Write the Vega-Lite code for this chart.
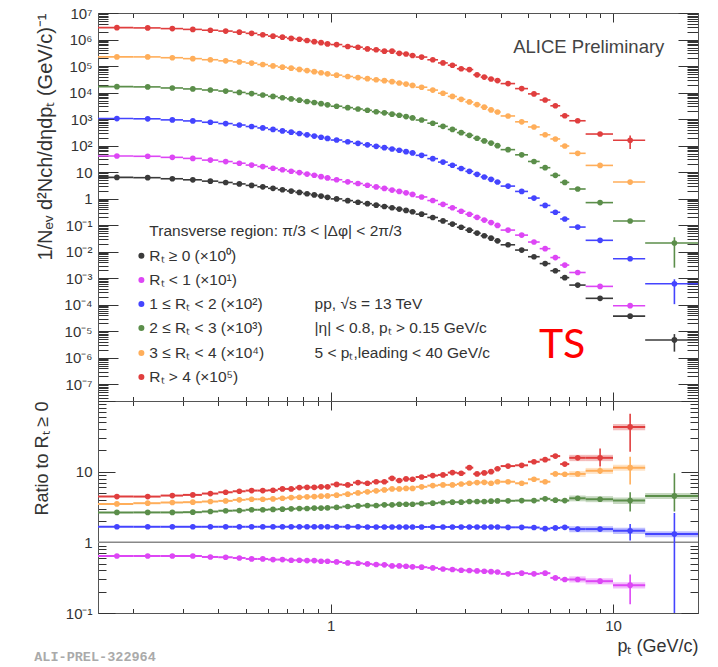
{
  "$schema": "https://vega.github.io/schema/vega-lite/v6.json",
  "padding": {"left": 32, "top": 5, "right": 5, "bottom": 5},
  "bounds": "flush",
  "spacing": 0,
  "config": {
    "font": "Liberation Sans",
    "view": {"stroke": "#555", "strokeWidth": 1},
    "axis": {
      "grid": false, "domainColor": "#555", "tickColor": "#333", "tickWidth": 1,
      "labelColor": "#333", "titleColor": "#333", "labelFontSize": 15,
      "titleFontWeight": "normal", "labelOverlap": false, "labelBound": false, "labelFlush": false
    }
  },
  "datasets": {
    "bins": [
      {"pt": 0.175, "ptlo": 0.15, "pthi": 0.2}, {"pt": 0.225, "ptlo": 0.2, "pthi": 0.25},
      {"pt": 0.275, "ptlo": 0.25, "pthi": 0.3}, {"pt": 0.325, "ptlo": 0.3, "pthi": 0.35},
      {"pt": 0.375, "ptlo": 0.35, "pthi": 0.4}, {"pt": 0.425, "ptlo": 0.4, "pthi": 0.45},
      {"pt": 0.475, "ptlo": 0.45, "pthi": 0.5}, {"pt": 0.525, "ptlo": 0.5, "pthi": 0.55},
      {"pt": 0.575, "ptlo": 0.55, "pthi": 0.6}, {"pt": 0.625, "ptlo": 0.6, "pthi": 0.65},
      {"pt": 0.675, "ptlo": 0.65, "pthi": 0.7}, {"pt": 0.725, "ptlo": 0.7, "pthi": 0.75},
      {"pt": 0.775, "ptlo": 0.75, "pthi": 0.8}, {"pt": 0.825, "ptlo": 0.8, "pthi": 0.85},
      {"pt": 0.875, "ptlo": 0.85, "pthi": 0.9}, {"pt": 0.925, "ptlo": 0.9, "pthi": 0.95},
      {"pt": 0.975, "ptlo": 0.95, "pthi": 1.0}, {"pt": 1.05, "ptlo": 1.0, "pthi": 1.1},
      {"pt": 1.15, "ptlo": 1.1, "pthi": 1.2}, {"pt": 1.25, "ptlo": 1.2, "pthi": 1.3},
      {"pt": 1.35, "ptlo": 1.3, "pthi": 1.4}, {"pt": 1.45, "ptlo": 1.4, "pthi": 1.5},
      {"pt": 1.55, "ptlo": 1.5, "pthi": 1.6}, {"pt": 1.65, "ptlo": 1.6, "pthi": 1.7},
      {"pt": 1.75, "ptlo": 1.7, "pthi": 1.8}, {"pt": 1.85, "ptlo": 1.8, "pthi": 1.9},
      {"pt": 1.95, "ptlo": 1.9, "pthi": 2.0}, {"pt": 2.1, "ptlo": 2.0, "pthi": 2.2},
      {"pt": 2.3, "ptlo": 2.2, "pthi": 2.4}, {"pt": 2.5, "ptlo": 2.4, "pthi": 2.6},
      {"pt": 2.7, "ptlo": 2.6, "pthi": 2.8}, {"pt": 2.9, "ptlo": 2.8, "pthi": 3.0},
      {"pt": 3.1, "ptlo": 3.0, "pthi": 3.2}, {"pt": 3.3, "ptlo": 3.2, "pthi": 3.4},
      {"pt": 3.5, "ptlo": 3.4, "pthi": 3.6}, {"pt": 3.7, "ptlo": 3.6, "pthi": 3.8},
      {"pt": 3.9, "ptlo": 3.8, "pthi": 4.0}, {"pt": 4.25, "ptlo": 4.0, "pthi": 4.5},
      {"pt": 4.75, "ptlo": 4.5, "pthi": 5.0}, {"pt": 5.25, "ptlo": 5.0, "pthi": 5.5},
      {"pt": 5.75, "ptlo": 5.5, "pthi": 6.0}, {"pt": 6.25, "ptlo": 6.0, "pthi": 6.5},
      {"pt": 6.75, "ptlo": 6.5, "pthi": 7.0}, {"pt": 7.5, "ptlo": 7.0, "pthi": 8.0},
      {"pt": 9, "ptlo": 8.0, "pthi": 10.0}, {"pt": 11.5, "ptlo": 10.0, "pthi": 13.0},
      {"pt": 16.5, "ptlo": 13.0, "pthi": 20.0}
    ],
    "spectra": [
      {"series": "all", "pt": 0.175, "y": 6.31}, {"series": "all", "pt": 0.225, "y": 6.17},
      {"series": "all", "pt": 0.275, "y": 5.62}, {"series": "all", "pt": 0.325, "y": 5.13},
      {"series": "all", "pt": 0.375, "y": 4.57}, {"series": "all", "pt": 0.425, "y": 4.07},
      {"series": "all", "pt": 0.475, "y": 3.59}, {"series": "all", "pt": 0.525, "y": 3.16},
      {"series": "all", "pt": 0.575, "y": 2.79}, {"series": "all", "pt": 0.625, "y": 2.45},
      {"series": "all", "pt": 0.675, "y": 2.16}, {"series": "all", "pt": 0.725, "y": 1.93},
      {"series": "all", "pt": 0.775, "y": 1.72}, {"series": "all", "pt": 0.825, "y": 1.53},
      {"series": "all", "pt": 0.875, "y": 1.38}, {"series": "all", "pt": 0.925, "y": 1.245},
      {"series": "all", "pt": 0.975, "y": 1.12}, {"series": "all", "pt": 1.05, "y": 0.977},
      {"series": "all", "pt": 1.15, "y": 0.841}, {"series": "all", "pt": 1.25, "y": 0.733},
      {"series": "all", "pt": 1.35, "y": 0.646}, {"series": "all", "pt": 1.45, "y": 0.569},
      {"series": "all", "pt": 1.55, "y": 0.507}, {"series": "all", "pt": 1.65, "y": 0.452},
      {"series": "all", "pt": 1.75, "y": 0.403}, {"series": "all", "pt": 1.85, "y": 0.359},
      {"series": "all", "pt": 1.95, "y": 0.32}, {"series": "all", "pt": 2.1, "y": 0.26},
      {"series": "all", "pt": 2.3, "y": 0.195}, {"series": "all", "pt": 2.5, "y": 0.145},
      {"series": "all", "pt": 2.7, "y": 0.11}, {"series": "all", "pt": 2.9, "y": 0.0832},
      {"series": "all", "pt": 3.1, "y": 0.0646}, {"series": "all", "pt": 3.3, "y": 0.0501},
      {"series": "all", "pt": 3.5, "y": 0.0398}, {"series": "all", "pt": 3.7, "y": 0.0324},
      {"series": "all", "pt": 3.9, "y": 0.0257}, {"series": "all", "pt": 4.25, "y": 0.0182},
      {"series": "all", "pt": 4.75, "y": 0.0115}, {"series": "all", "pt": 5.25, "y": 0.00646},
      {"series": "all", "pt": 5.75, "y": 0.00355}, {"series": "all", "pt": 6.25, "y": 0.00191},
      {"series": "all", "pt": 6.75, "y": 0.00105}, {"series": "all", "pt": 7.5, "y": 0.00055},
      {"series": "all", "pt": 9, "y": 0.000174},
      {"series": "all", "pt": 11.5, "y": 0.000037, "ylo": 0.000033, "yhi": 0.000041},
      {"series": "all", "pt": 16.5, "y": 0.0000047, "ylo": 0.0000017, "yhi": 0.0000078},

      {"series": "lt1", "pt": 0.175, "y": 40.4, "ratio": 0.641}, {"series": "lt1", "pt": 0.225, "y": 39.5, "ratio": 0.641},
      {"series": "lt1", "pt": 0.275, "y": 36.0, "ratio": 0.641}, {"series": "lt1", "pt": 0.325, "y": 32.9, "ratio": 0.641},
      {"series": "lt1", "pt": 0.375, "y": 28.4, "ratio": 0.621}, {"series": "lt1", "pt": 0.425, "y": 25.0, "ratio": 0.615},
      {"series": "lt1", "pt": 0.475, "y": 21.6, "ratio": 0.601}, {"series": "lt1", "pt": 0.525, "y": 18.4, "ratio": 0.582},
      {"series": "lt1", "pt": 0.575, "y": 16.2, "ratio": 0.582}, {"series": "lt1", "pt": 0.625, "y": 14.0, "ratio": 0.57},
      {"series": "lt1", "pt": 0.675, "y": 12.3, "ratio": 0.57}, {"series": "lt1", "pt": 0.725, "y": 10.8, "ratio": 0.558},
      {"series": "lt1", "pt": 0.775, "y": 9.6, "ratio": 0.558}, {"series": "lt1", "pt": 0.825, "y": 8.45, "ratio": 0.552},
      {"series": "lt1", "pt": 0.875, "y": 7.62, "ratio": 0.552}, {"series": "lt1", "pt": 0.925, "y": 6.72, "ratio": 0.54},
      {"series": "lt1", "pt": 0.975, "y": 6.05, "ratio": 0.54}, {"series": "lt1", "pt": 1.05, "y": 5.16, "ratio": 0.528},
      {"series": "lt1", "pt": 1.15, "y": 4.30, "ratio": 0.511}, {"series": "lt1", "pt": 1.25, "y": 3.71, "ratio": 0.506},
      {"series": "lt1", "pt": 1.35, "y": 3.20, "ratio": 0.495}, {"series": "lt1", "pt": 1.45, "y": 2.76, "ratio": 0.485},
      {"series": "lt1", "pt": 1.55, "y": 2.43, "ratio": 0.48}, {"series": "lt1", "pt": 1.65, "y": 2.10, "ratio": 0.464},
      {"series": "lt1", "pt": 1.75, "y": 1.87, "ratio": 0.464}, {"series": "lt1", "pt": 1.85, "y": 1.65, "ratio": 0.459},
      {"series": "lt1", "pt": 1.95, "y": 1.44, "ratio": 0.45}, {"series": "lt1", "pt": 2.1, "y": 1.157, "ratio": 0.445},
      {"series": "lt1", "pt": 2.3, "y": 0.848, "ratio": 0.435}, {"series": "lt1", "pt": 2.5, "y": 0.609, "ratio": 0.42},
      {"series": "lt1", "pt": 2.7, "y": 0.454, "ratio": 0.413}, {"series": "lt1", "pt": 2.9, "y": 0.335, "ratio": 0.403},
      {"series": "lt1", "pt": 3.1, "y": 0.258, "ratio": 0.399}, {"series": "lt1", "pt": 3.3, "y": 0.197, "ratio": 0.394},
      {"series": "lt1", "pt": 3.5, "y": 0.155, "ratio": 0.39}, {"series": "lt1", "pt": 3.7, "y": 0.125, "ratio": 0.385},
      {"series": "lt1", "pt": 3.9, "y": 0.0977, "ratio": 0.38}, {"series": "lt1", "pt": 4.25, "y": 0.0652, "ratio": 0.358},
      {"series": "lt1", "pt": 4.75, "y": 0.0421, "ratio": 0.366}, {"series": "lt1", "pt": 5.25, "y": 0.0231, "ratio": 0.358},
      {"series": "lt1", "pt": 5.75, "y": 0.013, "ratio": 0.366}, {"series": "lt1", "pt": 6.25, "y": 0.006, "ratio": 0.314},
      {"series": "lt1", "pt": 6.75, "y": 0.00313, "ratio": 0.298},
      {"series": "lt1", "pt": 7.5, "y": 0.00164, "ratio": 0.298, "slo": 0.27, "shi": 0.33},
      {"series": "lt1", "pt": 9, "y": 0.000491, "ratio": 0.282, "rlo": 0.26, "rhi": 0.305, "slo": 0.254, "shi": 0.31},
      {"series": "lt1", "pt": 11.5, "y": 0.0000918, "ylo": 0.000082, "yhi": 0.000102, "ratio": 0.248, "rlo": 0.133, "rhi": 0.35, "slo": 0.223, "shi": 0.273},

      {"series": "1to2", "pt": 0.175, "y": 1047, "ratio": 1.66}, {"series": "1to2", "pt": 0.225, "y": 1024, "ratio": 1.66},
      {"series": "1to2", "pt": 0.275, "y": 933, "ratio": 1.66}, {"series": "1to2", "pt": 0.325, "y": 852, "ratio": 1.66},
      {"series": "1to2", "pt": 0.375, "y": 759, "ratio": 1.66}, {"series": "1to2", "pt": 0.425, "y": 676, "ratio": 1.66},
      {"series": "1to2", "pt": 0.475, "y": 596, "ratio": 1.66}, {"series": "1to2", "pt": 0.525, "y": 525, "ratio": 1.66},
      {"series": "1to2", "pt": 0.575, "y": 463, "ratio": 1.66}, {"series": "1to2", "pt": 0.625, "y": 407, "ratio": 1.66},
      {"series": "1to2", "pt": 0.675, "y": 359, "ratio": 1.66}, {"series": "1to2", "pt": 0.725, "y": 320, "ratio": 1.66},
      {"series": "1to2", "pt": 0.775, "y": 286, "ratio": 1.66}, {"series": "1to2", "pt": 0.825, "y": 254, "ratio": 1.66},
      {"series": "1to2", "pt": 0.875, "y": 229, "ratio": 1.66}, {"series": "1to2", "pt": 0.925, "y": 207, "ratio": 1.66},
      {"series": "1to2", "pt": 0.975, "y": 186, "ratio": 1.66}, {"series": "1to2", "pt": 1.05, "y": 162, "ratio": 1.66},
      {"series": "1to2", "pt": 1.15, "y": 140, "ratio": 1.66}, {"series": "1to2", "pt": 1.25, "y": 122, "ratio": 1.66},
      {"series": "1to2", "pt": 1.35, "y": 107, "ratio": 1.65}, {"series": "1to2", "pt": 1.45, "y": 93.9, "ratio": 1.65},
      {"series": "1to2", "pt": 1.55, "y": 83.7, "ratio": 1.65}, {"series": "1to2", "pt": 1.65, "y": 74.6, "ratio": 1.65},
      {"series": "1to2", "pt": 1.75, "y": 66.5, "ratio": 1.65}, {"series": "1to2", "pt": 1.85, "y": 59.2, "ratio": 1.65},
      {"series": "1to2", "pt": 1.95, "y": 52.8, "ratio": 1.65}, {"series": "1to2", "pt": 2.1, "y": 42.9, "ratio": 1.65},
      {"series": "1to2", "pt": 2.3, "y": 32.2, "ratio": 1.65}, {"series": "1to2", "pt": 2.5, "y": 23.9, "ratio": 1.65},
      {"series": "1to2", "pt": 2.7, "y": 18.2, "ratio": 1.65}, {"series": "1to2", "pt": 2.9, "y": 13.7, "ratio": 1.65},
      {"series": "1to2", "pt": 3.1, "y": 10.7, "ratio": 1.65}, {"series": "1to2", "pt": 3.3, "y": 8.27, "ratio": 1.65},
      {"series": "1to2", "pt": 3.5, "y": 6.57, "ratio": 1.65}, {"series": "1to2", "pt": 3.7, "y": 5.35, "ratio": 1.65},
      {"series": "1to2", "pt": 3.9, "y": 4.24, "ratio": 1.65}, {"series": "1to2", "pt": 4.25, "y": 2.97, "ratio": 1.63},
      {"series": "1to2", "pt": 4.75, "y": 1.87, "ratio": 1.63}, {"series": "1to2", "pt": 5.25, "y": 1.05, "ratio": 1.62},
      {"series": "1to2", "pt": 5.75, "y": 0.554, "ratio": 1.56}, {"series": "1to2", "pt": 6.25, "y": 0.306, "ratio": 1.6},
      {"series": "1to2", "pt": 6.75, "y": 0.171, "ratio": 1.63},
      {"series": "1to2", "pt": 7.5, "y": 0.0847, "ratio": 1.54, "slo": 1.39, "shi": 1.69},
      {"series": "1to2", "pt": 9, "y": 0.0268, "ratio": 1.54, "slo": 1.39, "shi": 1.69},
      {"series": "1to2", "pt": 11.5, "y": 0.0054, "ylo": 0.0048, "yhi": 0.006, "ratio": 1.46, "rlo": 1.06, "rhi": 1.81, "slo": 1.31, "shi": 1.61},
      {"series": "1to2", "pt": 16.5, "y": 0.000616, "ylo": 0.000105, "yhi": 0.00091, "ratio": 1.31, "rlo": 0.1, "rhi": 2.6, "slo": 1.18, "shi": 1.44},

      {"series": "2to3", "pt": 0.175, "y": 16700, "ratio": 2.65}, {"series": "2to3", "pt": 0.225, "y": 16350, "ratio": 2.65},
      {"series": "2to3", "pt": 0.275, "y": 14900, "ratio": 2.65}, {"series": "2to3", "pt": 0.325, "y": 13700, "ratio": 2.67},
      {"series": "2to3", "pt": 0.375, "y": 12480, "ratio": 2.73}, {"series": "2to3", "pt": 0.425, "y": 11400, "ratio": 2.8},
      {"series": "2to3", "pt": 0.475, "y": 10120, "ratio": 2.82}, {"series": "2to3", "pt": 0.525, "y": 9130, "ratio": 2.89},
      {"series": "2to3", "pt": 0.575, "y": 8060, "ratio": 2.89}, {"series": "2to3", "pt": 0.625, "y": 7150, "ratio": 2.92},
      {"series": "2to3", "pt": 0.675, "y": 6370, "ratio": 2.95}, {"series": "2to3", "pt": 0.725, "y": 5750, "ratio": 2.98},
      {"series": "2to3", "pt": 0.775, "y": 5180, "ratio": 3.01}, {"series": "2to3", "pt": 0.825, "y": 4600, "ratio": 3.01},
      {"series": "2to3", "pt": 0.875, "y": 4210, "ratio": 3.05}, {"series": "2to3", "pt": 0.925, "y": 3800, "ratio": 3.05},
      {"series": "2to3", "pt": 0.975, "y": 3450, "ratio": 3.08}, {"series": "2to3", "pt": 1.05, "y": 3050, "ratio": 3.12},
      {"series": "2to3", "pt": 1.15, "y": 2700, "ratio": 3.21}, {"series": "2to3", "pt": 1.25, "y": 2400, "ratio": 3.28},
      {"series": "2to3", "pt": 1.35, "y": 2145, "ratio": 3.32}, {"series": "2to3", "pt": 1.45, "y": 1890, "ratio": 3.32},
      {"series": "2to3", "pt": 1.55, "y": 1720, "ratio": 3.39}, {"series": "2to3", "pt": 1.65, "y": 1530, "ratio": 3.39},
      {"series": "2to3", "pt": 1.75, "y": 1394, "ratio": 3.46}, {"series": "2to3", "pt": 1.85, "y": 1242, "ratio": 3.46},
      {"series": "2to3", "pt": 1.95, "y": 1107, "ratio": 3.46}, {"series": "2to3", "pt": 2.1, "y": 920, "ratio": 3.54},
      {"series": "2to3", "pt": 2.3, "y": 698, "ratio": 3.58}, {"series": "2to3", "pt": 2.5, "y": 531, "ratio": 3.66},
      {"series": "2to3", "pt": 2.7, "y": 407, "ratio": 3.7}, {"series": "2to3", "pt": 2.9, "y": 308, "ratio": 3.7},
      {"series": "2to3", "pt": 3.1, "y": 244, "ratio": 3.78}, {"series": "2to3", "pt": 3.3, "y": 189, "ratio": 3.78},
      {"series": "2to3", "pt": 3.5, "y": 150, "ratio": 3.78}, {"series": "2to3", "pt": 3.7, "y": 124, "ratio": 3.82},
      {"series": "2to3", "pt": 3.9, "y": 99.2, "ratio": 3.86}, {"series": "2to3", "pt": 4.25, "y": 70.4, "ratio": 3.87},
      {"series": "2to3", "pt": 4.75, "y": 44.9, "ratio": 3.9}, {"series": "2to3", "pt": 5.25, "y": 25.2, "ratio": 3.9},
      {"series": "2to3", "pt": 5.75, "y": 14.7, "ratio": 4.13}, {"series": "2to3", "pt": 6.25, "y": 7.54, "ratio": 3.95},
      {"series": "2to3", "pt": 6.75, "y": 4.1, "ratio": 3.9},
      {"series": "2to3", "pt": 7.5, "y": 2.31, "ratio": 4.2, "slo": 3.8, "shi": 4.6},
      {"series": "2to3", "pt": 9, "y": 0.708, "ratio": 4.07, "slo": 3.7, "shi": 4.5},
      {"series": "2to3", "pt": 11.5, "y": 0.144, "ylo": 0.13, "yhi": 0.16, "ratio": 3.9, "rlo": 2.73, "rhi": 5.1, "slo": 3.5, "shi": 4.3},
      {"series": "2to3", "pt": 16.5, "y": 0.0213, "ylo": 0.0025, "yhi": 0.035, "ratio": 4.54, "rlo": 2.73, "rhi": 9.5, "slo": 4.1, "shi": 5.0},

      {"series": "3to4", "pt": 0.175, "y": 221000, "ratio": 3.5}, {"series": "3to4", "pt": 0.225, "y": 221000, "ratio": 3.58},
      {"series": "3to4", "pt": 0.275, "y": 206000, "ratio": 3.66}, {"series": "3to4", "pt": 0.325, "y": 190000, "ratio": 3.7},
      {"series": "3to4", "pt": 0.375, "y": 173000, "ratio": 3.78}, {"series": "3to4", "pt": 0.425, "y": 157000, "ratio": 3.86},
      {"series": "3to4", "pt": 0.475, "y": 143000, "ratio": 3.99}, {"series": "3to4", "pt": 0.525, "y": 129000, "ratio": 4.07},
      {"series": "3to4", "pt": 0.575, "y": 114000, "ratio": 4.07}, {"series": "3to4", "pt": 0.625, "y": 101000, "ratio": 4.12},
      {"series": "3to4", "pt": 0.675, "y": 90700, "ratio": 4.2}, {"series": "3to4", "pt": 0.725, "y": 83000, "ratio": 4.3},
      {"series": "3to4", "pt": 0.775, "y": 74800, "ratio": 4.35}, {"series": "3to4", "pt": 0.825, "y": 67300, "ratio": 4.4},
      {"series": "3to4", "pt": 0.875, "y": 61300, "ratio": 4.44}, {"series": "3to4", "pt": 0.925, "y": 56000, "ratio": 4.5},
      {"series": "3to4", "pt": 0.975, "y": 50800, "ratio": 4.54}, {"series": "3to4", "pt": 1.05, "y": 45400, "ratio": 4.65},
      {"series": "3to4", "pt": 1.15, "y": 40400, "ratio": 4.8}, {"series": "3to4", "pt": 1.25, "y": 36700, "ratio": 5.0},
      {"series": "3to4", "pt": 1.35, "y": 33500, "ratio": 5.18}, {"series": "3to4", "pt": 1.45, "y": 30400, "ratio": 5.35},
      {"series": "3to4", "pt": 1.55, "y": 28000, "ratio": 5.52}, {"series": "3to4", "pt": 1.65, "y": 25800, "ratio": 5.7},
      {"series": "3to4", "pt": 1.75, "y": 23000, "ratio": 5.7}, {"series": "3to4", "pt": 1.85, "y": 20800, "ratio": 5.8},
      {"series": "3to4", "pt": 1.95, "y": 18600, "ratio": 5.8}, {"series": "3to4", "pt": 2.1, "y": 15900, "ratio": 6.1},
      {"series": "3to4", "pt": 2.3, "y": 12400, "ratio": 6.35}, {"series": "3to4", "pt": 2.5, "y": 9430, "ratio": 6.5},
      {"series": "3to4", "pt": 2.7, "y": 7150, "ratio": 6.5}, {"series": "3to4", "pt": 2.9, "y": 5570, "ratio": 6.7},
      {"series": "3to4", "pt": 3.1, "y": 4430, "ratio": 6.85}, {"series": "3to4", "pt": 3.3, "y": 3510, "ratio": 7.0},
      {"series": "3to4", "pt": 3.5, "y": 2810, "ratio": 7.06}, {"series": "3to4", "pt": 3.7, "y": 2220, "ratio": 6.85},
      {"series": "3to4", "pt": 3.9, "y": 1850, "ratio": 7.2}, {"series": "3to4", "pt": 4.25, "y": 1310, "ratio": 7.2},
      {"series": "3to4", "pt": 4.75, "y": 788, "ratio": 6.85}, {"series": "3to4", "pt": 5.25, "y": 504, "ratio": 7.8},
      {"series": "3to4", "pt": 5.75, "y": 256, "ratio": 7.2}, {"series": "3to4", "pt": 6.25, "y": 178, "ratio": 9.3},
      {"series": "3to4", "pt": 6.75, "y": 96.6, "ratio": 9.2},
      {"series": "3to4", "pt": 7.5, "y": 51.2, "ratio": 9.3, "slo": 8.4, "shi": 10.2},
      {"series": "3to4", "pt": 9, "y": 17.9, "ratio": 10.3, "rlo": 9.3, "rhi": 11.5, "slo": 9.3, "shi": 11.3},
      {"series": "3to4", "pt": 11.5, "y": 4.22, "ylo": 3.6, "yhi": 4.9, "ratio": 11.4, "rlo": 6.6, "rhi": 16.3, "slo": 10.3, "shi": 12.5},

      {"series": "gt4", "pt": 0.175, "y": 2800000, "ratio": 4.44}, {"series": "gt4", "pt": 0.225, "y": 2740000, "ratio": 4.44},
      {"series": "gt4", "pt": 0.275, "y": 2580000, "ratio": 4.59}, {"series": "gt4", "pt": 0.325, "y": 2410000, "ratio": 4.69},
      {"series": "gt4", "pt": 0.375, "y": 2240000, "ratio": 4.9}, {"series": "gt4", "pt": 0.425, "y": 2080000, "ratio": 5.11},
      {"series": "gt4", "pt": 0.475, "y": 1900000, "ratio": 5.28}, {"series": "gt4", "pt": 0.525, "y": 1710000, "ratio": 5.4},
      {"series": "gt4", "pt": 0.575, "y": 1510000, "ratio": 5.4}, {"series": "gt4", "pt": 0.625, "y": 1340000, "ratio": 5.45},
      {"series": "gt4", "pt": 0.675, "y": 1230000, "ratio": 5.7}, {"series": "gt4", "pt": 0.725, "y": 1100000, "ratio": 5.7},
      {"series": "gt4", "pt": 0.775, "y": 1020000, "ratio": 5.95}, {"series": "gt4", "pt": 0.825, "y": 918000, "ratio": 6.0},
      {"series": "gt4", "pt": 0.875, "y": 828000, "ratio": 6.0}, {"series": "gt4", "pt": 0.925, "y": 759000, "ratio": 6.1},
      {"series": "gt4", "pt": 0.975, "y": 683000, "ratio": 6.1}, {"series": "gt4", "pt": 1.05, "y": 645000, "ratio": 6.6},
      {"series": "gt4", "pt": 1.15, "y": 547000, "ratio": 6.5}, {"series": "gt4", "pt": 1.25, "y": 513000, "ratio": 7.0},
      {"series": "gt4", "pt": 1.35, "y": 443000, "ratio": 6.85}, {"series": "gt4", "pt": 1.45, "y": 410000, "ratio": 7.2},
      {"series": "gt4", "pt": 1.55, "y": 365000, "ratio": 7.2}, {"series": "gt4", "pt": 1.65, "y": 364000, "ratio": 8.05},
      {"series": "gt4", "pt": 1.75, "y": 302000, "ratio": 7.5}, {"series": "gt4", "pt": 1.85, "y": 284000, "ratio": 7.9},
      {"series": "gt4", "pt": 1.95, "y": 250000, "ratio": 7.8}, {"series": "gt4", "pt": 2.1, "y": 218000, "ratio": 8.4},
      {"series": "gt4", "pt": 2.3, "y": 172000, "ratio": 8.8}, {"series": "gt4", "pt": 2.5, "y": 131000, "ratio": 9.0},
      {"series": "gt4", "pt": 2.7, "y": 107000, "ratio": 9.7}, {"series": "gt4", "pt": 2.9, "y": 79000, "ratio": 9.5},
      {"series": "gt4", "pt": 3.1, "y": 73600, "ratio": 11.4}, {"series": "gt4", "pt": 3.3, "y": 46600, "ratio": 9.3},
      {"series": "gt4", "pt": 3.5, "y": 38200, "ratio": 9.6}, {"series": "gt4", "pt": 3.7, "y": 32400, "ratio": 10.0},
      {"series": "gt4", "pt": 3.9, "y": 28300, "ratio": 11.0}, {"series": "gt4", "pt": 4.25, "y": 21800, "ratio": 12.0},
      {"series": "gt4", "pt": 4.75, "y": 14100, "ratio": 12.3}, {"series": "gt4", "pt": 5.25, "y": 8910, "ratio": 13.8},
      {"series": "gt4", "pt": 5.75, "y": 5250, "ratio": 14.8}, {"series": "gt4", "pt": 6.25, "y": 3170, "ratio": 16.6},
      {"series": "gt4", "pt": 6.75, "y": 1340, "ratio": 12.8},
      {"series": "gt4", "pt": 7.5, "y": 864, "ratio": 15.7, "slo": 14.1, "shi": 17.3},
      {"series": "gt4", "pt": 9, "y": 273, "ylo": 245, "yhi": 300, "ratio": 15.7, "rlo": 11.8, "rhi": 21.3, "slo": 14.1, "shi": 17.3},
      {"series": "gt4", "pt": 11.5, "y": 159, "ylo": 75, "yhi": 240, "ratio": 43, "rlo": 19.2, "rhi": 66, "slo": 38.7, "shi": 47.3}
    ],
    "legend": [
      {"series": "all", "x": 0.2137, "y": 0.00695},
      {"series": "lt1", "x": 0.2137, "y": 0.000863},
      {"series": "1to2", "x": 0.2137, "y": 0.000107},
      {"series": "2to3", "x": 0.2137, "y": 0.0000133},
      {"series": "3to4", "x": 0.2137, "y": 0.00000152},
      {"series": "gt4", "x": 0.2137, "y": 0.000000188}
    ],
    "notes": [
      {"x": 0.228, "y": 0.061, "text": "Transverse region: π/3 < |Δφ| < 2π/3"},
      {"x": 0.228, "y": 0.00695, "text": "Rₜ ≥ 0 (×10⁰)"},
      {"x": 0.228, "y": 0.000863, "text": "Rₜ < 1 (×10¹)"},
      {"x": 0.228, "y": 0.000107, "text": "1 ≤ Rₜ < 2 (×10²)"},
      {"x": 0.228, "y": 0.0000133, "text": "2 ≤ Rₜ < 3 (×10³)"},
      {"x": 0.228, "y": 0.00000152, "text": "3 ≤ Rₜ < 4 (×10⁴)"},
      {"x": 0.228, "y": 0.000000188, "text": "Rₜ > 4 (×10⁵)"},
      {"x": 0.877, "y": 0.000107, "text": "pp, √s = 13 TeV"},
      {"x": 0.877, "y": 0.0000133, "text": "|η| < 0.8, pₜ > 0.15 GeV/c"},
      {"x": 0.877, "y": 0.00000152, "text": "5 < pₜ,leading < 40 GeV/c"}
    ]
  },
  "vconcat": [
    {
      "width": 600,
      "height": 388,
      "resolve": {"axis": {"x": "independent", "y": "independent"}},
      "layer": [
        {
          "data": {"name": "spectra"},
          "transform": [{"lookup": "pt", "from": {"data": {"name": "bins"}, "key": "pt", "fields": ["ptlo", "pthi"]}}],
          "mark": {"type": "rule", "strokeWidth": 1.6},
          "encoding": {
            "x": {"field": "ptlo", "type": "quantitative", "scale": {"type": "log", "domain": [0.15, 20], "nice": false},
              "axis": {"orient": "bottom", "title": null, "labels": false,
                "values": [0.2, 0.3, 0.4, 0.5, 0.6, 0.7, 0.8, 0.9, 1, 2, 3, 4, 5, 6, 7, 8, 9, 10, 20],
                "tickSize": {"condition": {"test": "datum.value == 1 || datum.value == 10", "value": -9}, "value": -4.5}}},
            "x2": {"field": "pthi"},
            "y": {"field": "y", "type": "quantitative", "scale": {"type": "log", "domain": [2.34e-8, 1e7], "nice": false},
              "axis": {"orient": "left",
                "values": [3e-8, 4e-8, 5e-8, 6e-8, 7e-8, 8e-8, 9e-8, 1e-7, 2e-7, 3e-7, 4e-7, 5e-7, 6e-7, 7e-7, 8e-7, 9e-7, 1e-6, 2e-6, 3e-6, 4e-6, 5e-6, 6e-6, 7e-6, 8e-6, 9e-6, 1e-5, 2e-5, 3e-5, 4e-5, 5e-5, 6e-5, 7e-5, 8e-5, 9e-5, 1e-4, 2e-4, 3e-4, 4e-4, 5e-4, 6e-4, 7e-4, 8e-4, 9e-4, 0.001, 0.002, 0.003, 0.004, 0.005, 0.006, 0.007, 0.008, 0.009, 0.01, 0.02, 0.03, 0.04, 0.05, 0.06, 0.07, 0.08, 0.09, 0.1, 0.2, 0.3, 0.4, 0.5, 0.6, 0.7, 0.8, 0.9, 1, 2, 3, 4, 5, 6, 7, 8, 9, 10, 20, 30, 40, 50, 60, 70, 80, 90, 100, 200, 300, 400, 500, 600, 700, 800, 900, 1000, 2000, 3000, 4000, 5000, 6000, 7000, 8000, 9000, 10000, 20000, 30000, 40000, 50000, 60000, 70000, 80000, 90000, 100000, 200000, 300000, 400000, 500000, 600000, 700000, 800000, 900000, 1000000, 2000000, 3000000, 4000000, 5000000, 6000000, 7000000, 8000000, 9000000, 10000000],
                "labelExpr": "abs(datum.value / pow(10, round(log(datum.value) / LN10)) - 1) > 0.001 ? '' : datum.value == 1 ? '1' : datum.value == 10 ? '10' : '10' + (datum.value < 1 ? '⁻' : '') + ['⁰','¹','²','³','⁴','⁵','⁶','⁷','⁸','⁹'][abs(round(log(datum.value) / LN10))]",
                "tickSize": {"condition": {"test": "abs(datum.value / pow(10, round(log(datum.value) / LN10)) - 1) < 0.001", "value": -20}, "value": -10},
                "labelPadding": 26,
                "title": "1/Nₑᵥ d²Nch/dηdpₜ (GeV/c)⁻¹", "titleFontSize": 20, "titleAnchor": "end", "titlePadding": 8}},
            "color": {"field": "series", "type": "nominal", "legend": null,
              "scale": {"domain": ["all", "lt1", "1to2", "2to3", "3to4", "gt4"], "range": ["#3a3a3a", "#dd46f5", "#4444ff", "#5b8e4a", "#ffae5a", "#e03e3e"]}}
          }
        },
        {
          "data": {"name": "spectra"},
          "transform": [{"filter": "isValid(datum.ylo)"}],
          "mark": {"type": "rule", "strokeWidth": 1.6},
          "encoding": {
            "x": {"field": "pt", "type": "quantitative", "scale": {"type": "log", "domain": [0.15, 20], "nice": false}, "axis": null},
            "y": {"field": "ylo", "type": "quantitative", "scale": {"type": "log", "domain": [2.34e-8, 1e7], "nice": false}, "axis": null},
            "y2": {"field": "yhi"},
            "color": {"field": "series", "type": "nominal", "legend": null}
          }
        },
        {
          "data": {"name": "spectra"},
          "mark": {"type": "circle", "size": 32, "opacity": 1},
          "encoding": {
            "x": {"field": "pt", "type": "quantitative", "scale": {"type": "log", "domain": [0.15, 20], "nice": false},
              "axis": {"orient": "top", "title": null, "labels": false,
                "values": [0.2, 0.3, 0.4, 0.5, 0.6, 0.7, 0.8, 0.9, 1, 2, 3, 4, 5, 6, 7, 8, 9, 10, 20],
                "tickSize": {"condition": {"test": "datum.value == 1 || datum.value == 10", "value": -9}, "value": -4.5}}},
            "y": {"field": "y", "type": "quantitative", "scale": {"type": "log", "domain": [2.34e-8, 1e7], "nice": false},
              "axis": {"orient": "right", "title": null, "labels": false,
                "values": [3e-8, 4e-8, 5e-8, 6e-8, 7e-8, 8e-8, 9e-8, 1e-7, 2e-7, 3e-7, 4e-7, 5e-7, 6e-7, 7e-7, 8e-7, 9e-7, 1e-6, 2e-6, 3e-6, 4e-6, 5e-6, 6e-6, 7e-6, 8e-6, 9e-6, 1e-5, 2e-5, 3e-5, 4e-5, 5e-5, 6e-5, 7e-5, 8e-5, 9e-5, 1e-4, 2e-4, 3e-4, 4e-4, 5e-4, 6e-4, 7e-4, 8e-4, 9e-4, 0.001, 0.002, 0.003, 0.004, 0.005, 0.006, 0.007, 0.008, 0.009, 0.01, 0.02, 0.03, 0.04, 0.05, 0.06, 0.07, 0.08, 0.09, 0.1, 0.2, 0.3, 0.4, 0.5, 0.6, 0.7, 0.8, 0.9, 1, 2, 3, 4, 5, 6, 7, 8, 9, 10, 20, 30, 40, 50, 60, 70, 80, 90, 100, 200, 300, 400, 500, 600, 700, 800, 900, 1000, 2000, 3000, 4000, 5000, 6000, 7000, 8000, 9000, 10000, 20000, 30000, 40000, 50000, 60000, 70000, 80000, 90000, 100000, 200000, 300000, 400000, 500000, 600000, 700000, 800000, 900000, 1000000, 2000000, 3000000, 4000000, 5000000, 6000000, 7000000, 8000000, 9000000, 10000000],
                "tickSize": {"condition": {"test": "abs(datum.value / pow(10, round(log(datum.value) / LN10)) - 1) < 0.001", "value": -20}, "value": -11}}},
            "color": {"field": "series", "type": "nominal", "legend": null}
          }
        },
        {
          "data": {"name": "legend"},
          "mark": {"type": "circle", "size": 36, "opacity": 1},
          "encoding": {
            "x": {"field": "x", "type": "quantitative", "scale": {"type": "log", "domain": [0.15, 20], "nice": false}, "axis": null},
            "y": {"field": "y", "type": "quantitative", "scale": {"type": "log", "domain": [2.34e-8, 1e7], "nice": false}, "axis": null},
            "color": {"field": "series", "type": "nominal", "legend": null}
          }
        },
        {
          "data": {"name": "notes"},
          "mark": {"type": "text", "align": "left", "baseline": "middle", "fontSize": 15.5, "color": "#333"},
          "encoding": {
            "x": {"field": "x", "type": "quantitative", "scale": {"type": "log", "domain": [0.15, 20], "nice": false}, "axis": null},
            "y": {"field": "y", "type": "quantitative", "scale": {"type": "log", "domain": [2.34e-8, 1e7], "nice": false}, "axis": null},
            "text": {"field": "text"}
          }
        },
        {
          "data": {"values": [{"x": 15.2, "y": 320000, "text": "ALICE Preliminary"}]},
          "mark": {"type": "text", "align": "right", "baseline": "alphabetic", "fontSize": 18.5, "color": "#444"},
          "encoding": {
            "x": {"field": "x", "type": "quantitative", "scale": {"type": "log", "domain": [0.15, 20], "nice": false}, "axis": null},
            "y": {"field": "y", "type": "quantitative", "scale": {"type": "log", "domain": [2.34e-8, 1e7], "nice": false}, "axis": null},
            "text": {"field": "text"}
          }
        },
        {
          "data": {"values": [{"x": 5.47, "y": 0.00000279, "text": "TS"}]},
          "mark": {"type": "text", "align": "left", "baseline": "middle", "fontSize": 41, "font": "Lato", "color": "#ff0000"},
          "encoding": {
            "x": {"field": "x", "type": "quantitative", "scale": {"type": "log", "domain": [0.15, 20], "nice": false}, "axis": null},
            "y": {"field": "y", "type": "quantitative", "scale": {"type": "log", "domain": [2.34e-8, 1e7], "nice": false}, "axis": null},
            "text": {"field": "text"}
          }
        }
      ]
    },
    {
      "width": 600,
      "height": 212,
      "resolve": {"axis": {"x": "independent", "y": "independent"}},
      "layer": [
        {
          "data": {"values": [{"level": 1}]},
          "mark": {"type": "rule", "color": "#888", "strokeWidth": 1.5},
          "encoding": {
            "y": {"field": "level", "type": "quantitative", "scale": {"type": "log", "domain": [0.1, 100], "nice": false}, "axis": null}
          }
        },
        {
          "data": {"name": "spectra"},
          "transform": [
            {"filter": "isValid(datum.slo)"},
            {"lookup": "pt", "from": {"data": {"name": "bins"}, "key": "pt", "fields": ["ptlo", "pthi"]}}
          ],
          "mark": {"type": "rect", "opacity": 0.35},
          "encoding": {
            "x": {"field": "ptlo", "type": "quantitative", "scale": {"type": "log", "domain": [0.15, 20], "nice": false}, "axis": null},
            "x2": {"field": "pthi"},
            "y": {"field": "slo", "type": "quantitative", "scale": {"type": "log", "domain": [0.1, 100], "nice": false}, "axis": null},
            "y2": {"field": "shi"},
            "color": {"field": "series", "type": "nominal", "legend": null,
              "scale": {"domain": ["all", "lt1", "1to2", "2to3", "3to4", "gt4"], "range": ["#3a3a3a", "#dd46f5", "#4444ff", "#5b8e4a", "#ffae5a", "#e03e3e"]}}
          }
        },
        {
          "data": {"name": "spectra"},
          "transform": [
            {"filter": "isValid(datum.ratio)"},
            {"lookup": "pt", "from": {"data": {"name": "bins"}, "key": "pt", "fields": ["ptlo", "pthi"]}}
          ],
          "mark": {"type": "rule", "strokeWidth": 2},
          "encoding": {
            "x": {"field": "ptlo", "type": "quantitative", "scale": {"type": "log", "domain": [0.15, 20], "nice": false},
              "axis": {"orient": "bottom",
                "values": [0.2, 0.3, 0.4, 0.5, 0.6, 0.7, 0.8, 0.9, 1, 2, 3, 4, 5, 6, 7, 8, 9, 10, 20],
                "labelExpr": "datum.value == 1 ? '1' : datum.value == 10 ? '10' : ''",
                "tickSize": {"condition": {"test": "datum.value == 1 || datum.value == 10", "value": -9}, "value": -4.5},
                "labelPadding": 14,
                "title": "pₜ (GeV/c)", "titleFontSize": 18, "titleAnchor": "end", "titlePadding": 0}},
            "x2": {"field": "pthi"},
            "y": {"field": "ratio", "type": "quantitative", "scale": {"type": "log", "domain": [0.1, 100], "nice": false},
              "axis": {"orient": "left",
                "values": [0.1, 0.2, 0.3, 0.4, 0.5, 0.6, 0.7, 0.8, 0.9, 1, 2, 3, 4, 5, 6, 7, 8, 9, 10, 20, 30, 40, 50, 60, 70, 80, 90, 100],
                "labelExpr": "datum.value == 0.1 ? '10⁻¹' : datum.value == 1 ? '1' : datum.value == 10 ? '10' : ''",
                "tickSize": {"condition": {"test": "datum.value == 0.1 || datum.value == 1 || datum.value == 10 || datum.value == 100", "value": -17}, "value": -8},
                "labelPadding": 23,
                "title": "Ratio to Rₜ ≥ 0", "titleFontSize": 18, "titleAnchor": "end", "titlePadding": 14}},
            "color": {"field": "series", "type": "nominal", "legend": null}
          }
        },
        {
          "data": {"name": "spectra"},
          "transform": [{"filter": "isValid(datum.rlo)"}],
          "mark": {"type": "rule", "strokeWidth": 1.6},
          "encoding": {
            "x": {"field": "pt", "type": "quantitative", "scale": {"type": "log", "domain": [0.15, 20], "nice": false}, "axis": null},
            "y": {"field": "rlo", "type": "quantitative", "scale": {"type": "log", "domain": [0.1, 100], "nice": false}, "axis": null},
            "y2": {"field": "rhi"},
            "color": {"field": "series", "type": "nominal", "legend": null}
          }
        },
        {
          "data": {"name": "spectra"},
          "transform": [{"filter": "isValid(datum.ratio)"}],
          "mark": {"type": "circle", "size": 32, "opacity": 1},
          "encoding": {
            "x": {"field": "pt", "type": "quantitative", "scale": {"type": "log", "domain": [0.15, 20], "nice": false},
              "axis": {"orient": "top", "title": null, "labels": false,
                "values": [0.2, 0.3, 0.4, 0.5, 0.6, 0.7, 0.8, 0.9, 1, 2, 3, 4, 5, 6, 7, 8, 9, 10, 20],
                "tickSize": {"condition": {"test": "datum.value == 1 || datum.value == 10", "value": -9}, "value": -4.5}}},
            "y": {"field": "ratio", "type": "quantitative", "scale": {"type": "log", "domain": [0.1, 100], "nice": false},
              "axis": {"orient": "right", "title": null, "labels": false,
                "values": [0.1, 0.2, 0.3, 0.4, 0.5, 0.6, 0.7, 0.8, 0.9, 1, 2, 3, 4, 5, 6, 7, 8, 9, 10, 20, 30, 40, 50, 60, 70, 80, 90, 100],
                "tickSize": {"condition": {"test": "datum.value == 0.1 || datum.value == 1 || datum.value == 10 || datum.value == 100", "value": -17}, "value": -8}}},
            "color": {"field": "series", "type": "nominal", "legend": null}
          }
        },
        {
          "data": {"values": [{"x": 0.0892, "y": 0.0235, "text": "ALI-PREL-322964"}]},
          "mark": {"type": "text", "align": "left", "baseline": "middle", "fontSize": 13.5, "font": "Liberation Mono", "fontWeight": "bold", "color": "#aaaaaa"},
          "encoding": {
            "x": {"field": "x", "type": "quantitative", "scale": {"type": "log", "domain": [0.15, 20], "nice": false}, "axis": null},
            "y": {"field": "y", "type": "quantitative", "scale": {"type": "log", "domain": [0.1, 100], "nice": false}, "axis": null},
            "text": {"field": "text"}
          }
        }
      ]
    }
  ]
}
